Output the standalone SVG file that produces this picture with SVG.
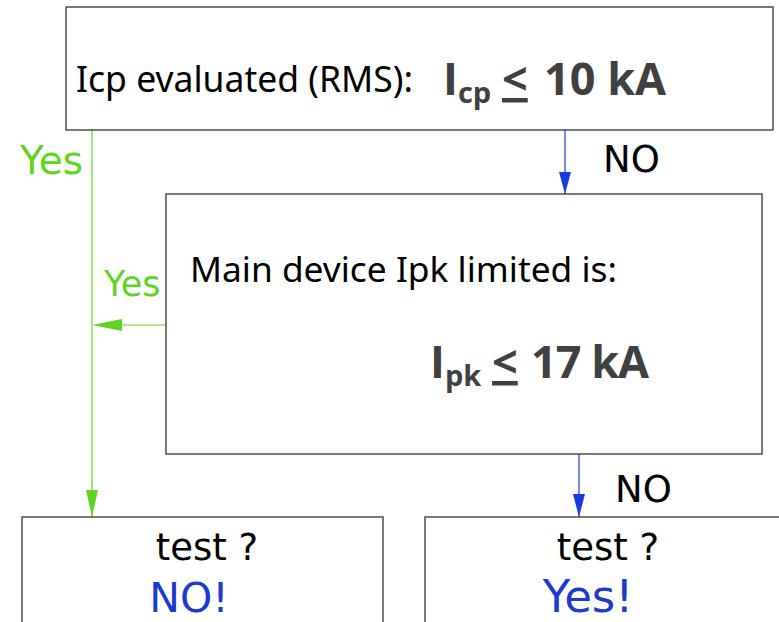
<svg xmlns="http://www.w3.org/2000/svg" width="779" height="622" viewBox="0 0 779 622">
<style>
.box{fill:#fff;stroke:#333;stroke-width:1.3}
.t{font-family:"Noto Sans","DejaVu Sans",sans-serif;fill:#000}
.v{font-family:"DejaVu Sans","Noto Sans",sans-serif;fill:#000}
.big{font-family:"Open Sans","Noto Sans",sans-serif;font-weight:bold;fill:#404040}
.g{stroke:#5fd522;stroke-width:1.2;fill:none}
.b{stroke:#1a3be0;stroke-width:1.2;fill:none}
.gt{font-family:"DejaVu Sans","Noto Sans",sans-serif;fill:#5fd522}
.bt{font-family:"DejaVu Sans","Noto Sans",sans-serif;fill:#1a3ad0}
</style>
<rect width="779" height="622" fill="#fff"/>
<g id="connectors">
<line class="g" x1="92" y1="130" x2="92" y2="517"/>
<polygon points="86,490 98,490 92,517" fill="#5fd522"/>
<line class="g" x1="166" y1="325" x2="122" y2="325"/>
<polygon points="92,325 122,319 122,331" fill="#5fd522"/>
<line class="b" x1="565" y1="130" x2="565" y2="194"/>
<polygon points="559,172 571,172 565,194" fill="#1a3be0"/>
<line class="b" x1="579" y1="454" x2="579" y2="517"/>
<polygon points="573,494 585,494 579,517" fill="#1a3be0"/>
<text class="gt" x="20" y="174" font-size="39">Yes</text>
<text class="gt" x="104" y="296" font-size="35">Yes</text>
<text class="v" x="603" y="172" font-size="37">NO</text>
<text class="v" x="615" y="502" font-size="37">NO</text>
</g>
<g id="node1">
<rect class="box" x="66" y="7" width="707" height="123"/>
<text class="t" x="76" y="92" font-size="35.5">Icp evaluated (RMS):</text>
<text class="big" y="95" font-size="45"><tspan x="443">I</tspan><tspan font-size="29" dy="8">cp</tspan><tspan x="502" dy="-8" text-decoration="underline">&lt;</tspan><tspan x="544">10 kA</tspan></text>
</g>
<g id="node2">
<rect class="box" x="166" y="194" width="596" height="260"/>
<text class="t" x="190" y="282" font-size="35.3">Main device Ipk limited is:</text>
<text class="big" y="378" font-size="45"><tspan x="430">I</tspan><tspan font-size="29" dy="8">pk</tspan><tspan x="492" dy="-8" text-decoration="underline">&lt;</tspan><tspan x="531" letter-spacing="-1">17 kA</tspan></text>
</g>
<g id="node3">
<rect class="box" x="22" y="517" width="361" height="120"/>
<text class="v" x="207" y="560" font-size="37" text-anchor="middle">test ?</text>
<text class="bt" x="189" y="612" font-size="41" text-anchor="middle">NO!</text>
</g>
<g id="node4">
<rect class="box" x="425" y="517" width="370" height="120"/>
<text class="v" x="608" y="560" font-size="37" text-anchor="middle">test ?</text>
<text class="bt" x="588" y="612" font-size="45" text-anchor="middle">Yes!</text>
</g>
</svg>
